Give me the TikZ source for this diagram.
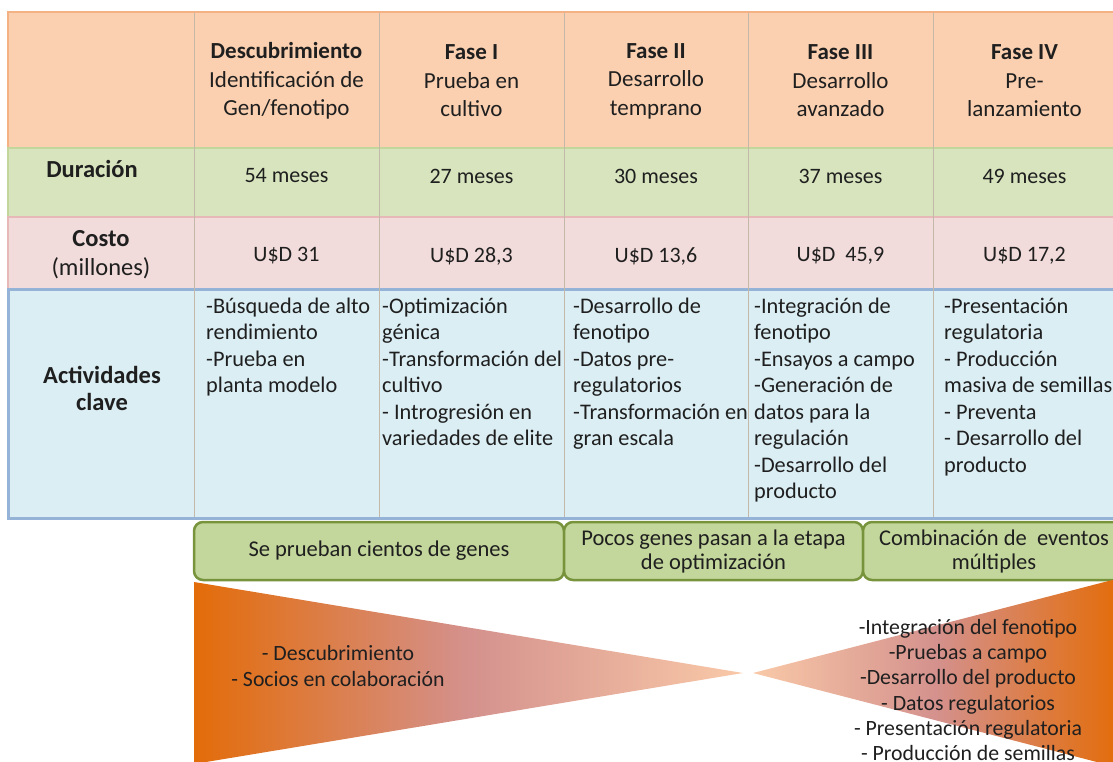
\documentclass[tikz,border=0pt]{standalone}
\usepackage{fontspec}
\setmainfont{Carlito}

\definecolor{hdrfill}{HTML}{FAD0B0}
\definecolor{hdrline}{HTML}{F4B183}
\definecolor{durfill}{HTML}{D7E4BD}
\definecolor{durline}{HTML}{C3D69B}
\definecolor{costfill}{HTML}{F2DCDB}
\definecolor{costline}{HTML}{E6B9B8}
\definecolor{actfill}{HTML}{DBEEF4}
\definecolor{actline}{HTML}{95B3D7}
\definecolor{sepline}{HTML}{C4B9A8}
\definecolor{boxfill}{HTML}{C3D69B}
\definecolor{boxline}{HTML}{77933C}
\definecolor{funnelorange}{HTML}{E36C09}
\definecolor{funnelpink}{HTML}{D4918D}
\definecolor{funnelpeach}{HTML}{F9C9A8}
\definecolor{txt}{HTML}{1F1F1F}

\newcommand{\firstline}{\rule{0pt}{20pt}}

\begin{document}
\begin{tikzpicture}[
    x=1pt, y=-1pt,
    every node/.style={text=txt, inner sep=0pt},
    hdr/.style={align=center, font=\fontsize{23}{28.5}\selectfont},
    val/.style={font=\fontsize{22}{26}\selectfont},
    rowlabel/.style={align=center, font=\fontsize{24.5}{29}\selectfont},
    actv/.style={align=left, anchor=north west, font=\fontsize{22.3}{26.5}\selectfont},
    phasebox/.style={draw=boxline, fill=boxfill, line width=2.5pt, rounded corners=9pt, align=center, font=\fontsize{22.5}{24}\selectfont},
    funneltext/.style={align=center, font=\fontsize{21.8}{25.2}\selectfont}
]
\useasboundingbox (0,0) rectangle (1113,762);
\clip (0,0) rectangle (1113,762);

% Table rows
\draw[draw=hdrline, fill=hdrfill, line width=2pt] (8,12) rectangle (1130,148);
\draw[draw=durline, fill=durfill, line width=2pt] (8,148) rectangle (1130,217);
\draw[draw=costline, fill=costfill, line width=2pt] (8,217) rectangle (1130,289);
\draw[draw=actline, fill=actfill, line width=3pt] (8,289) rectangle (1130,518);
\draw[sepline, line width=0.8pt] (194,13) -- (194,517) (379,13) -- (379,517)
    (564,13) -- (564,517) (748,13) -- (748,517) (933,13) -- (933,517);

% Header
\node[hdr] (h0) at (286.5,81) {\textbf{Descubrimiento}\\Identificación de\\Gen/fenotipo};
\node[hdr] (h1) at (471.5,81) {\textbf{Fase I}\\Prueba en\\cultivo};
\node[hdr] (h2) at (656,81) {\textbf{Fase II}\\Desarrollo\\temprano};
\node[hdr] (h3) at (840.5,81) {\textbf{Fase III}\\Desarrollo\\avanzado};
\node[hdr] (h4) at (1024.5,81) {\textbf{Fase IV}\\Pre-\\lanzamiento};

% Duracion
\node[rowlabel] (durlabel) at (92,169) {\textbf{Duración}};
\node[val] (dur0) at (286.5,176) {54 meses};
\node[val] (dur1) at (471.5,176) {27 meses};
\node[val] (dur2) at (656,176) {30 meses};
\node[val] (dur3) at (840.5,176) {37 meses};
\node[val] (dur4) at (1024.5,176) {49 meses};

% Costo
\node[rowlabel] (costlabel) at (101,255) {\textbf{Costo}\\(millones)};
\node[val] (cost0) at (286.5,256) {U\$D 31};
\node[val] (cost1) at (471.5,256) {U\$D 28,3};
\node[val] (cost2) at (656,256) {U\$D 13,6};
\node[val] (cost3) at (840.5,256) {U\$D\ \ 45,9};
\node[val] (cost4) at (1024.5,256) {U\$D 17,2};

% Actividades clave
\node[rowlabel, font=\fontsize{24.5}{27}\selectfont] (actlabel) at (102,388) {\textbf{Actividades}\\\textbf{clave}};
\node[actv] (act0) at (206,293) {\firstline-Búsqueda de alto\\rendimiento\\-Prueba en\\planta modelo};
\node[actv] (act1) at (382,293) {\firstline-Optimización\\génica\\-Transformación del\\cultivo\\- Introgresión en\\variedades de elite};
\node[actv] (act2) at (573,293) {\firstline-Desarrollo de\\fenotipo\\-Datos pre-\\regulatorios\\-Transformación en\\gran escala};
\node[actv] (act3) at (754,293) {\firstline-Integración de\\fenotipo\\-Ensayos a campo\\-Generación de\\datos para la\\regulación\\-Desarrollo del\\producto};
\node[actv] (act4) at (944,293) {\firstline-Presentación\\regulatoria\\- Producción\\masiva de semillas\\- Preventa\\- Desarrollo del\\producto};

% Etapas
\node[phasebox, minimum width=370, minimum height=58] (genes) at (379,551) {Se prueban cientos de genes};
\node[phasebox, minimum width=299, minimum height=58] (pocos) at (713.5,551) {Pocos genes pasan a la etapa\\de optimización};
\node[phasebox, minimum width=262, minimum height=58] (combi) at (994,551) {Combinación de\ \ eventos\\múltiples};

% Embudos
\shade[left color=funnelorange, right color=funnelpeach, middle color=funnelpink]
    (194,582) -- (743,673) -- (194,764) -- cycle;
\shade[left color=funnelpeach, right color=funnelorange, middle color=funnelpink]
    (1120,578) -- (753,673) -- (1120,768) -- cycle;
\node[funneltext] (descub) at (338,666) {- Descubrimiento\\- Socios en colaboración};
\node[funneltext] (integ) at (968,690) {-Integración del fenotipo\\-Pruebas a campo\\-Desarrollo del producto\\- Datos regulatorios\\- Presentación regulatoria\\- Producción de semillas};

\end{tikzpicture}
\end{document}
